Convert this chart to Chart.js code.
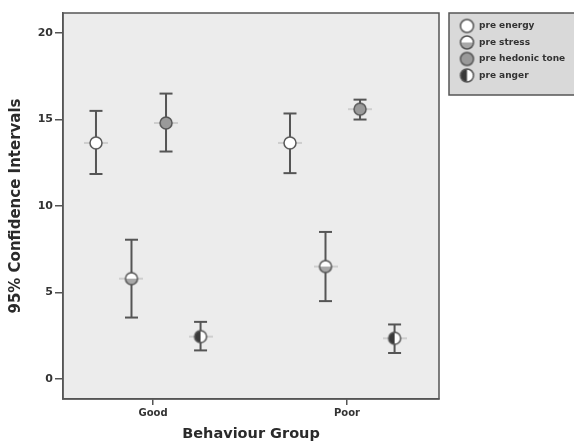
<!DOCTYPE html>
<html>
<head>
<meta charset="utf-8">
<script src="https://cdn.jsdelivr.net/npm/chart.js@4/dist/chart.umd.min.js"></script>
<style>
  html, body { margin: 0; padding: 0; background: #fff; }
  #wrap { width: 574px; height: 443px; }
</style>
</head>
<body>
<div id="wrap"><canvas id="myChart" width="574" height="443"></canvas></div>
<script>
// data
const groups = ['Good', 'Poor'];
const seriesNames = ['pre energy', 'pre stress', 'pre hedonic tone', 'pre anger'];
const yTicks = [0, 5, 10, 15, 20];

const energyMean = [13.65, 13.65];
const energyLow = [11.85, 11.9];
const energyHigh = [15.5, 15.35];

const stressMean = [5.8, 6.5];
const stressLow = [3.55, 4.5];
const stressHigh = [8.05, 8.5];

const hedonicMean = [14.8, 15.6];
const hedonicLow = [13.15, 15.0];
const hedonicHigh = [16.5, 16.15];

const angerMean = [2.45, 2.35];
const angerLow = [1.65, 1.5];
const angerHigh = [3.3, 3.15];

const means = [energyMean, stressMean, hedonicMean, angerMean];
const lows = [energyLow, stressLow, hedonicLow, angerLow];
const highs = [energyHigh, stressHigh, hedonicHigh, angerHigh];

// dodge of each series inside its group (x units)
const dodge = [-0.294, -0.111, 0.067, 0.245];
const kinds = ['energy', 'stress', 'hedonic', 'anger'];

function makeMarker(kind, whisker, r) {
    const c = document.createElement('canvas');
    c.width = whisker ? 24 : 2 * r + 4;
    c.height = 2 * r + 4;
    const ctx = c.getContext('2d');
    const cx = c.width / 2, cy = c.height / 2;
    if (whisker) {
        ctx.strokeStyle = '#c4c4c4';
        ctx.lineWidth = 1.5;
        ctx.beginPath();
        ctx.moveTo(0, cy);
        ctx.lineTo(c.width, cy);
        ctx.stroke();
    }
    ctx.fillStyle = '#fff';
    ctx.beginPath();
    ctx.arc(cx, cy, r, 0, Math.PI * 2);
    ctx.fill();
    if (kind === 'stress') {
        ctx.fillStyle = '#a8a8a8';
        ctx.beginPath();
        ctx.arc(cx, cy, r, 0, Math.PI);
        ctx.fill();
    } else if (kind === 'hedonic') {
        ctx.fillStyle = '#9a9a9a';
        ctx.beginPath();
        ctx.arc(cx, cy, r, 0, Math.PI * 2);
        ctx.fill();
    } else if (kind === 'anger') {
        ctx.fillStyle = '#3a3a3a';
        ctx.beginPath();
        ctx.arc(cx, cy, r, Math.PI / 2, Math.PI * 1.5);
        ctx.fill();
    }
    ctx.strokeStyle = '#555';
    ctx.lineWidth = 1.5;
    ctx.beginPath();
    ctx.arc(cx, cy, r, 0, Math.PI * 2);
    ctx.stroke();
    return c;
}

const datasets = [];
seriesNames.forEach((name, s) => {
    datasets.push({
        label: name,
        data: groups.map((g, i) => ({ x: i + dodge[s], y: means[s][i] })),
        pointStyle: makeMarker(kinds[s], true, 6),
        pointRadius: 6,
        showLine: false,
        order: 0
    });
});
seriesNames.forEach((name, s) => {
    const pts = [];
    groups.forEach((g, i) => {
        pts.push({ x: i + dodge[s], y: lows[s][i] });
        pts.push({ x: i + dodge[s], y: highs[s][i] });
        pts.push({ x: i + dodge[s], y: null });
    });
    datasets.push({
        label: name + ' CI',
        data: pts,
        showLine: true,
        spanGaps: false,
        borderColor: '#555',
        borderWidth: 2,
        pointStyle: 'line',
        pointRadius: 6.5,
        pointBorderColor: '#555',
        pointBorderWidth: 2,
        order: 1
    });
});

const legendMarkers = kinds.map(k => makeMarker(k, false, 6.5));

const framePlugin = {
    id: 'frame',
    beforeDraw(chart) {
        const { ctx, chartArea: a } = chart;
        ctx.save();
        ctx.fillStyle = '#fff';
        ctx.fillRect(0, 0, chart.width, chart.height);
        ctx.fillStyle = '#ececec';
        ctx.fillRect(a.left, a.top, a.right - a.left, a.bottom - a.top);
        ctx.restore();
    },
    beforeDatasetsDraw(chart) {
        const { ctx, chartArea: a } = chart;
        ctx.save();
        ctx.strokeStyle = '#555';
        ctx.lineWidth = 1.5;
        ctx.strokeRect(a.left, a.top, a.right - a.left, a.bottom - a.top);
        ctx.restore();
    },
    afterDraw(chart) {
        const { ctx, chartArea: a } = chart;
        const bx = a.right + 10, by = a.top;
        ctx.save();
        ctx.fillStyle = '#d9d9d9';
        ctx.fillRect(bx, by, 140, 82);
        ctx.strokeStyle = '#555';
        ctx.lineWidth = 1.5;
        ctx.strokeRect(bx, by, 140, 82);
        ctx.font = 'bold 9px "DejaVu Sans"';
        ctx.fillStyle = '#333';
        ctx.textBaseline = 'middle';
        seriesNames.forEach((name, s) => {
            const y = by + 13 + s * 16.5;
            const m = legendMarkers[s];
            ctx.drawImage(m, bx + 18 - m.width / 2, y - m.height / 2);
            ctx.fillText(name, bx + 30, y);
        });
        ctx.restore();
    }
};

const ctx = document.getElementById('myChart').getContext('2d');
new Chart(ctx, {
    type: 'scatter',
    data: { datasets: datasets },
    plugins: [framePlugin],
    options: {
        responsive: false,
        animation: false,
        layout: { padding: { top: 13, right: 135, left: 0, bottom: 0 } },
        plugins: {
            legend: { display: false },
            tooltip: { enabled: false }
        },
        scales: {
            x: {
                type: 'linear',
                min: -0.464,
                max: 1.474,
                afterBuildTicks: (scale) => {
                    scale.ticks = groups.map((g, i) => ({ value: i }));
                },
                afterFit: (scale) => { scale.height = 44; },
                ticks: {
                    callback: (v) => groups[v],
                    color: '#333',
                    font: { family: 'DejaVu Sans', size: 10, weight: 'bold' },
                    padding: 2,
                    maxRotation: 0
                },
                grid: { drawOnChartArea: false, tickLength: 6, color: '#555', lineWidth: 1.5 },
                border: { color: '#555', width: 1.5 },
                title: {
                    display: true,
                    text: 'Behaviour Group',
                    color: '#2a2a2a',
                    font: { family: 'DejaVu Sans', size: 14.5, weight: 'bold' },
                    padding: { top: 0, bottom: 0 }
                }
            },
            y: {
                min: -1.16,
                max: 21.16,
                afterBuildTicks: (scale) => {
                    scale.ticks = yTicks.map(v => ({ value: v }));
                },
                afterFit: (scale) => { scale.width = 63; },
                ticks: {
                    color: '#333',
                    font: { family: 'DejaVu Sans', size: 11, weight: 'bold' },
                    padding: 2
                },
                grid: { drawOnChartArea: false, tickLength: 8, color: '#555', lineWidth: 1.5 },
                border: { color: '#555', width: 1.5 },
                title: {
                    display: true,
                    text: '95% Confidence Intervals',
                    color: '#2a2a2a',
                    font: { family: 'DejaVu Sans', size: 15, weight: 'bold' },
                    padding: { top: 7, bottom: 0 }
                }
            }
        }
    }
});
</script>
</body>
</html>
